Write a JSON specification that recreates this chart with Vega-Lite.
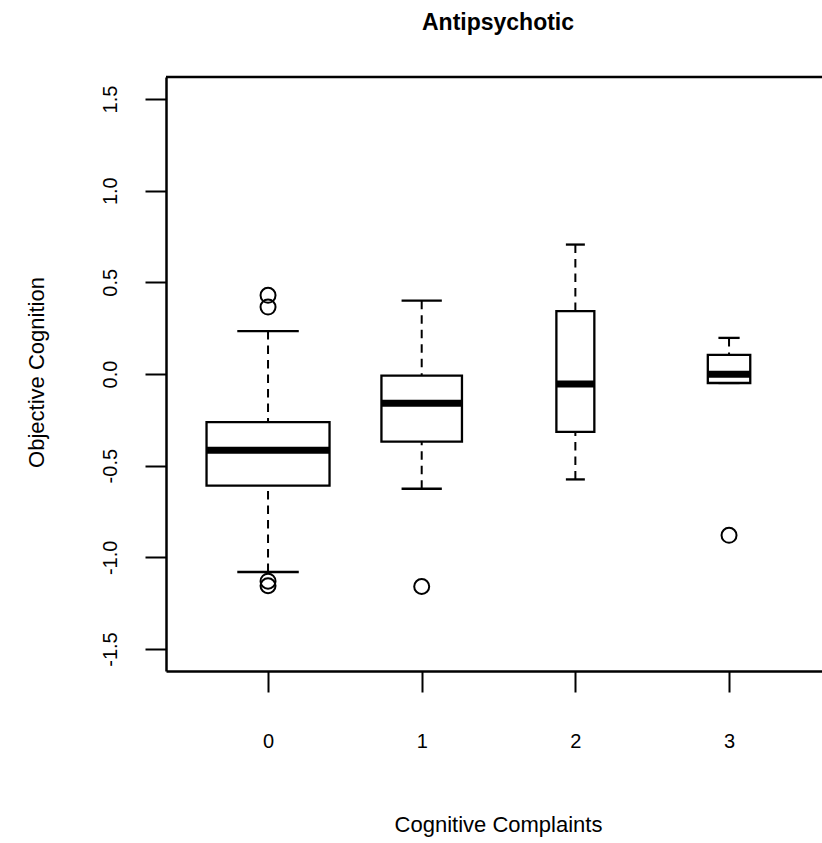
{
  "$schema": "https://vega.github.io/schema/vega-lite/v6.json",
  "width": 656,
  "height": 594,
  "autosize": {"type": "none"},
  "padding": {"left": 166, "top": 77, "right": 0, "bottom": 172},
  "background": "white",
  "title": {"text": "Antipsychotic", "font": "Liberation Sans", "fontSize": 23, "fontWeight": "bold", "color": "black", "anchor": "middle", "frame": "group", "baseline": "alphabetic", "offset": 23, "dx": 4},
  "config": {
    "view": {"stroke": null},
    "locale": {"number": {"decimal": ".", "thousands": ",", "grouping": [3], "currency": ["$", ""], "minus": "-"}},
    "axis": {"grid": false, "labelFont": "Liberation Sans", "titleFont": "Liberation Sans", "labelColor": "black", "titleColor": "black", "tickColor": "black", "domainColor": "black", "labelFontSize": 20, "titleFontSize": 22, "titleFontWeight": "normal", "tickSize": 21, "tickWidth": 2, "domainWidth": 2.5, "labelFlush": false, "labelOverlap": false}
  },
  "datasets": {
    "boxes": [
      {"g": 0, "n": 84, "lo": -1.08, "q1": -0.609, "med": -0.416, "q3": -0.263, "hi": 0.234},
      {"g": 1, "n": 36, "lo": -0.626, "q1": -0.369, "med": -0.159, "q3": -0.009, "hi": 0.4},
      {"g": 2, "n": 8, "lo": -0.575, "q1": -0.316, "med": -0.055, "q3": 0.343, "hi": 0.706},
      {"g": 3, "n": 10, "lo": -0.049, "q1": -0.049, "med": -0.002, "q3": 0.104, "hi": 0.197}
    ],
    "outliers": [
      {"g": 0, "v": 0.429},
      {"g": 0, "v": 0.365},
      {"g": 0, "v": -1.13},
      {"g": 0, "v": -1.155},
      {"g": 1, "v": -1.159},
      {"g": 3, "v": -0.88}
    ]
  },
  "layer": [
    {
      "data": {"name": "boxes"},
      "mark": {"type": "rule", "color": "black", "strokeWidth": 2, "strokeDash": [8.5, 6]},
      "encoding": {
        "x": {"field": "g", "type": "quantitative", "title": "Cognitive Complaints", "scale": {"domain": [-0.664, 3.605], "nice": false, "zero": false, "padding": 0},
          "axis": {"values": [0, 1, 2, 3], "format": "d", "title": "Cognitive Complaints", "labelFontSize": 20, "labelFont": "Liberation Sans", "labelBaseline": "alphabetic", "labelPadding": 55, "titleX": 332, "titleY": 160, "titleAlign": "center", "titleBaseline": "alphabetic"}},
        "y": {"field": "hi", "type": "quantitative", "title": "Objective Cognition", "scale": {"domain": [-1.62, 1.62], "nice": false, "zero": false, "padding": 0},
          "axis": {"values": [-1.5, -1, -0.5, 0, 0.5, 1, 1.5], "format": ".1f", "title": "Objective Cognition", "labelFontSize": 20, "labelFont": "Liberation Sans", "labelAngle": 270, "labelAlign": "center", "labelBaseline": "alphabetic", "labelPadding": 29, "titleX": -123, "titleY": 295, "titleAngle": 270, "titleAlign": "center", "titleBaseline": "alphabetic"}},
        "y2": {"field": "q3"}
      }
    },
    {
      "data": {"name": "boxes"},
      "mark": {"type": "rule", "color": "black", "strokeWidth": 2, "strokeDash": [8.5, 6]},
      "encoding": {
        "x": {"field": "g", "type": "quantitative", "title": "Cognitive Complaints"},
        "y": {"field": "lo", "type": "quantitative", "title": "Objective Cognition"},
        "y2": {"field": "q1"}
      }
    },
    {
      "data": {"name": "boxes"},
      "mark": {"type": "tick", "orient": "horizontal", "color": "black", "thickness": 2.3, "opacity": 1},
      "encoding": {
        "x": {"field": "g", "type": "quantitative", "title": "Cognitive Complaints"},
        "y": {"field": "hi", "type": "quantitative", "title": "Objective Cognition"},
        "size": {"field": "n", "type": "quantitative", "scale": {"type": "sqrt", "domain": [0, 84], "range": [0, 61.5]}, "legend": null}
      }
    },
    {
      "data": {"name": "boxes"},
      "mark": {"type": "tick", "orient": "horizontal", "color": "black", "thickness": 2.3, "opacity": 1},
      "encoding": {
        "x": {"field": "g", "type": "quantitative", "title": "Cognitive Complaints"},
        "y": {"field": "lo", "type": "quantitative", "title": "Objective Cognition"},
        "size": {"field": "n", "type": "quantitative", "scale": {"type": "sqrt", "domain": [0, 84], "range": [0, 61.5]}, "legend": null}
      }
    },
    {
      "data": {"name": "boxes"},
      "mark": {"type": "bar", "orient": "vertical", "fill": "white", "stroke": "black", "strokeWidth": 2.3, "opacity": 1},
      "encoding": {
        "x": {"field": "g", "type": "quantitative", "title": "Cognitive Complaints"},
        "y": {"field": "q1", "type": "quantitative", "title": "Objective Cognition"},
        "y2": {"field": "q3"},
        "size": {"field": "n", "type": "quantitative", "scale": {"type": "sqrt", "domain": [0, 84], "range": [0, 123]}, "legend": null}
      }
    },
    {
      "data": {"name": "boxes"},
      "mark": {"type": "tick", "orient": "horizontal", "color": "black", "thickness": 7, "opacity": 1},
      "encoding": {
        "x": {"field": "g", "type": "quantitative", "title": "Cognitive Complaints"},
        "y": {"field": "med", "type": "quantitative", "title": "Objective Cognition"},
        "size": {"field": "n", "type": "quantitative", "scale": {"type": "sqrt", "domain": [0, 84], "range": [0, 123]}, "legend": null}
      }
    },
    {
      "data": {"name": "outliers"},
      "mark": {"type": "point", "shape": "circle", "filled": false, "size": 225, "stroke": "black", "strokeWidth": 2, "opacity": 1},
      "encoding": {
        "x": {"field": "g", "type": "quantitative", "title": "Cognitive Complaints"},
        "y": {"field": "v", "type": "quantitative", "title": "Objective Cognition"}
      }
    },
    {
      "data": {"values": [{}]},
      "mark": {"type": "rule", "color": "black", "strokeWidth": 2.5},
      "encoding": {
        "y": {"datum": 1.62, "type": "quantitative", "title": "Objective Cognition"}
      }
    }
  ],
  "resolve": {"scale": {"size": "independent"}}
}
